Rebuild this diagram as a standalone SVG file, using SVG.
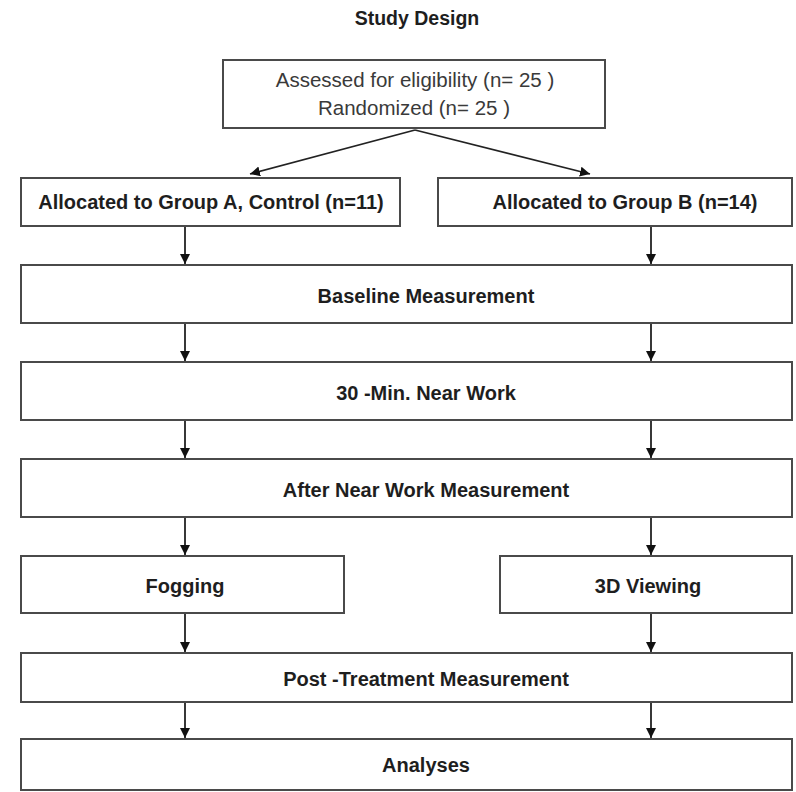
<svg xmlns="http://www.w3.org/2000/svg" width="796" height="792" viewBox="0 0 796 792">
<defs>
<style>
.box{fill:#fff;stroke:#4a4a4a;stroke-width:2}
.t{font-family:"Liberation Sans",Arial,sans-serif;font-size:20px;font-weight:bold;fill:#1e1e1e;text-anchor:middle}
.r{font-family:"Liberation Sans",Arial,sans-serif;font-size:20.5px;fill:#3a3a3a;text-anchor:middle}
.c{stroke:#222;stroke-width:1.8;fill:none;marker-end:url(#ah)}
</style>
<marker id="ah" markerWidth="12" markerHeight="12" refX="10" refY="5" orient="auto" markerUnits="userSpaceOnUse">
<path d="M0,0 L10,5 L0,10 Z" fill="#111"/>
</marker>
</defs>
<rect width="796" height="792" fill="#fff"/>
<text id="title" class="t" x="417" y="25" style="font-size:19.5px">Study Design</text>
<g id="assessed">
<rect class="box" x="223" y="60" width="382" height="68"/>
<text class="r" x="415" y="87">Assessed for eligibility (n= 25 )</text>
<text class="r" x="414" y="115">Randomized (n= 25 )</text>
</g>
<g id="groupA">
<rect class="box" x="21" y="178" width="379" height="48"/>
<text class="t" x="211" y="209">Allocated to Group A, Control (n=11)</text>
</g>
<g id="groupB">
<rect class="box" x="438" y="178" width="354" height="48"/>
<text class="t" x="625" y="209">Allocated to Group B (n=14)</text>
</g>
<g id="baseline">
<rect class="box" x="21" y="265" width="771" height="58"/>
<text class="t" x="426" y="303">Baseline Measurement</text>
</g>
<g id="nearwork">
<rect class="box" x="21" y="362" width="771" height="58"/>
<text class="t" x="426" y="400">30 -Min. Near Work</text>
</g>
<g id="afternear">
<rect class="box" x="21" y="459" width="771" height="58"/>
<text class="t" x="426" y="497">After Near Work Measurement</text>
</g>
<g id="fogging">
<rect class="box" x="21" y="556" width="323" height="57"/>
<text class="t" x="185" y="593">Fogging</text>
</g>
<g id="viewing3d">
<rect class="box" x="500" y="556" width="292" height="57"/>
<text class="t" x="648" y="593">3D Viewing</text>
</g>
<g id="posttreatment">
<rect class="box" x="21" y="653" width="771" height="49"/>
<text class="t" x="426" y="686">Post -Treatment Measurement</text>
</g>
<g id="analyses">
<rect class="box" x="21" y="739" width="771" height="51"/>
<text class="t" x="426" y="772">Analyses</text>
</g>
<g id="connectors">
<line class="c" x1="415" y1="130" x2="250" y2="174"/>
<line class="c" x1="415" y1="130" x2="590" y2="174"/>
<line class="c" x1="185" y1="227" x2="185" y2="264"/>
<line class="c" x1="651" y1="227" x2="651" y2="264"/>
<line class="c" x1="185" y1="324" x2="185" y2="361"/>
<line class="c" x1="651" y1="324" x2="651" y2="361"/>
<line class="c" x1="185" y1="421" x2="185" y2="458"/>
<line class="c" x1="651" y1="421" x2="651" y2="458"/>
<line class="c" x1="185" y1="518" x2="185" y2="555"/>
<line class="c" x1="651" y1="518" x2="651" y2="555"/>
<line class="c" x1="185" y1="614" x2="185" y2="652"/>
<line class="c" x1="651" y1="614" x2="651" y2="652"/>
<line class="c" x1="185" y1="703" x2="185" y2="738"/>
<line class="c" x1="651" y1="703" x2="651" y2="738"/>
</g>
</svg>
